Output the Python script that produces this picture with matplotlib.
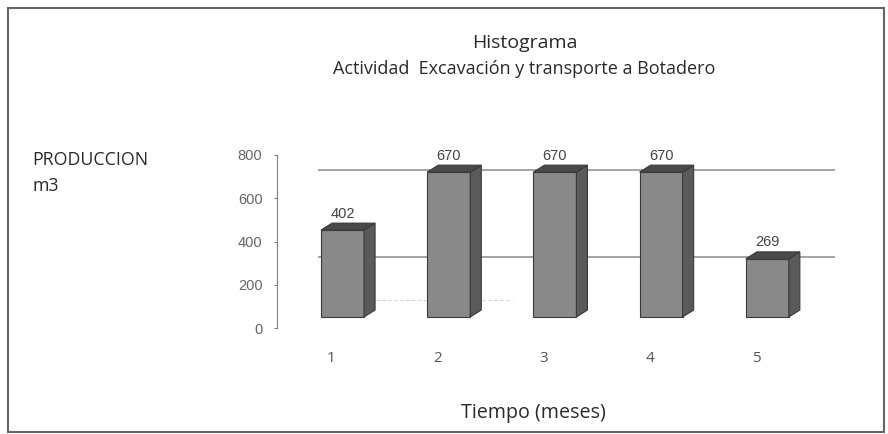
import matplotlib
matplotlib.use('Agg')
import matplotlib.pyplot as plt
from matplotlib.patches import Polygon, Rectangle

# data
meses = [1, 2, 3, 4, 5]
produccion = [402, 670, 670, 670, 269]
etiquetas = ['1', '2', '3', '4', '5']
y_ticks = [0, 200, 400, 600, 800]
grid_levels = [200, 600]

# 3d look (in data units)
w = 0.405      # front face width
dx = 0.104     # depth, x
dy = 32        # depth, y
base = 51      # front floor above the axis zero
wall = 130     # back wall offset for gridlines

front_c = '#898989'
side_c = '#5a5a5a'
top_c = '#4a4a4a'
edge_c = '#3a3a3a'

fig = plt.figure(figsize=(8.88, 4.34), dpi=100)
ax = fig.add_axes([277/888, 1 - 328/434, (860 - 277)/888, 173/434])
ax.set_xlim(0.383, 5.873)
ax.set_ylim(0, 800)

# back wall gridlines
ax.hlines([g + wall for g in grid_levels], 0.77, 5.64, color='#8c8c8c', lw=1.1, zorder=1)
ax.hlines(wall, 1.2, 2.6, color='#d8d8d8', lw=0.8, ls='--', zorder=1)

# bars
ax.bar(meses, produccion, width=w, bottom=base, color=front_c,
       edgecolor=edge_c, lw=0.8, zorder=3)
for x, v in zip(meses, produccion):
    r = x + w/2
    l = x - w/2
    top = base + v
    side = Polygon([(r, base), (r + dx, base + dy), (r + dx, top + dy), (r, top)],
                   closed=True, facecolor=side_c, edgecolor=edge_c, lw=0.8, zorder=3)
    cap = Polygon([(l, top), (l + dx, top + dy), (r + dx, top + dy), (r, top)],
                  closed=True, facecolor=top_c, edgecolor=edge_c, lw=0.8, zorder=3)
    ax.add_patch(side)
    ax.add_patch(cap)
    ax.text(x, top + dy + 12, str(v), ha='center', va='bottom', fontsize=10.5,
            family='Liberation Sans', color='#444444', clip_on=False, zorder=4)

# category labels sit under the floor, shifted left
for x, lab in zip(meses, etiquetas):
    ax.text(x - dx, -143, lab, ha='center', va='center', fontsize=11,
            family='Open Sans', color='#555555', clip_on=False)

ax.set_xticks([])
ax.set_yticks(y_ticks)
ax.set_yticklabels([str(t) for t in y_ticks], fontsize=10.5, family='Liberation Sans',
                   color='#666666')
ax.tick_params(axis='y', length=2.5, width=0.8, color='#777777', pad=8)
for s in ['top', 'right', 'bottom']:
    ax.spines[s].set_visible(False)
ax.spines['left'].set_color('#888888')
ax.spines['left'].set_linewidth(0.9)

# texts
fig.text(525/888, 1 - 43/434, 'Histograma', ha='center', va='center',
         fontsize=14, family='Open Sans', color='#2a2a2a')
fig.text(524/888, 1 - 69/434, 'Actividad  Excavación y transporte a Botadero',
         ha='center', va='center', fontsize=13, family='Open Sans', color='#2a2a2a')
fig.text(32/888, 1 - 160/434, 'PRODUCCION', ha='left', va='center',
         fontsize=12.8, family='Open Sans', color='#2a2a2a')
fig.text(32/888, 1 - 186/434, 'm3', ha='left', va='center',
         fontsize=12.8, family='Open Sans', color='#2a2a2a')
fig.text(533/888, 1 - 413/434, 'Tiempo (meses)', ha='center', va='center',
         fontsize=14.2, family='Open Sans', color='#2a2a2a')

# chart border
fig.patches.append(Rectangle((8/888, 1 - 432/434), 876/888, 424/434,
                             transform=fig.transFigure, fill=False,
                             edgecolor='#666666', lw=1.5))

plt.savefig('out.png', dpi=100)
